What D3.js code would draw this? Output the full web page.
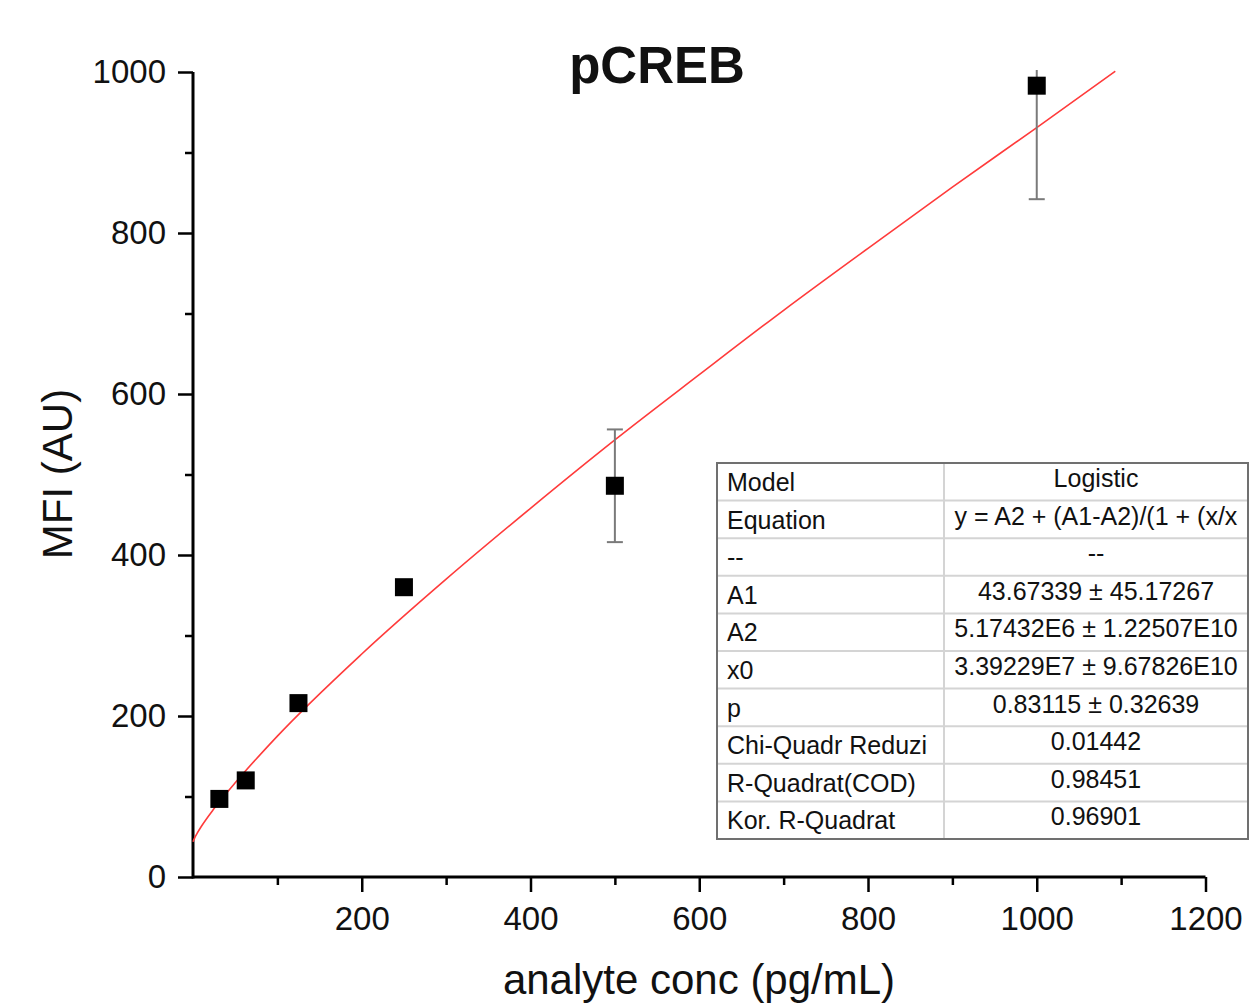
<!DOCTYPE html>
<html>
<head>
<meta charset="utf-8">
<script src="https://cdn.jsdelivr.net/npm/d3@7"></script>
<style>
  body { margin: 0; background: #fff; }
  text { font-family: "Liberation Sans", Arial, sans-serif; fill: #111; }
</style>
</head>
<body>
<div id="viz"></div>
<script>
// measured points
let conc = [31.25, 62.5, 125, 250, 500, 1000]
let mfi = [97, 120, 216, 360, 486, 983]
let mfi_err = [0, 0, 0, 0, 70, 141]

// fitted logistic curve
let fit_x = [0, 2, 5, 10, 25, 50, 100, 200, 300, 400, 500, 600, 700, 800, 900, 1000, 1093]
let fit_y = [43.7, 48.7, 54.5, 63, 85, 117, 175, 277, 370, 458, 543, 624, 704, 781, 857, 931, 1001]

let x_major = [200, 400, 600, 800, 1000, 1200]
let x_minor = [100, 300, 500, 700, 900, 1100]
let y_major = [0, 200, 400, 600, 800, 1000]
let y_minor = [100, 300, 500, 700, 900]

let table_labels = ['Model', 'Equation', '--', 'A1', 'A2', 'x0', 'p', 'Chi-Quadr Reduzi', 'R-Quadrat(COD)', 'Kor. R-Quadrat']
let table_values = ['Logistic', 'y = A2 + (A1-A2)/(1 + (x/x', '--', '43.67339 ± 45.17267', '5.17432E6 ± 1.22507E10',
	'3.39229E7 ± 9.67826E10', '0.83115 ± 0.32639', '0.01442', '0.98451', '0.96901']

const WIDTH = 1249
const HEIGHT = 1007

const svg = d3.select('#viz').append('svg')
	.attr('width', WIDTH)
	.attr('height', HEIGHT)

const x = d3.scaleLinear().domain([0, 1200]).range([193, 1205.5])
const y = d3.scaleLinear().domain([0, 1000]).range([877, 72])

svg.append('defs').append('clipPath').attr('id', 'plot-clip')
	.append('rect').attr('x', 150).attr('y', 70).attr('width', 1100).attr('height', 820)

// axes
const axis_style = (g) => {
	g.select('.domain').remove()
	g.selectAll('.tick line').attr('stroke', '#000').attr('stroke-width', 2.5)
	g.selectAll('.tick text').style('font-size', '33px').attr('fill', '#111')
}

svg.append('g')
	.attr('transform', 'translate(0,877)')
	.call(d3.axisBottom(x).tickValues(x_major).tickSize(15).tickPadding(15).tickFormat(d3.format('d')))
	.call(axis_style)

svg.append('g')
	.attr('transform', 'translate(0,877)')
	.call(d3.axisBottom(x).tickValues(x_minor).tickSize(8).tickFormat(''))
	.call(axis_style)

svg.append('g')
	.attr('transform', 'translate(193,0)')
	.call(d3.axisLeft(y).tickValues(y_major).tickSize(15).tickPadding(12).tickFormat(d3.format('d')))
	.call(axis_style)

svg.append('g')
	.attr('transform', 'translate(193,0)')
	.call(d3.axisLeft(y).tickValues(y_minor).tickSize(8).tickFormat(''))
	.call(axis_style)

svg.append('line')
	.attr('x1', x(0)).attr('x2', x(1200))
	.attr('y1', y(0)).attr('y2', y(0))
	.attr('stroke', '#000').attr('stroke-width', 3)
svg.append('line')
	.attr('x1', x(0)).attr('x2', x(0))
	.attr('y1', y(0) + 1.5).attr('y2', y(1000))
	.attr('stroke', '#000').attr('stroke-width', 3)

// fit line
const plot = svg.append('g').attr('clip-path', 'url(#plot-clip)')

const fit_line = d3.line()
	.x((d, i) => x(fit_x[i]))
	.y((d, i) => y(fit_y[i]))
	.curve(d3.curveMonotoneX)

plot.append('path')
	.datum(fit_x)
	.attr('d', fit_line)
	.attr('fill', 'none')
	.attr('stroke', '#ff3b3b')
	.attr('stroke-width', 1.6)

// error bars
const err_data = conc.map((c, i) => ({ c, v: mfi[i], e: mfi_err[i] })).filter((d) => d.e > 0)

plot.selectAll('.err')
	.data(err_data)
	.enter()
	.append('line')
	.attr('x1', (d) => x(d.c)).attr('x2', (d) => x(d.c))
	.attr('y1', (d) => y(d.v - d.e)).attr('y2', (d) => y(d.v + d.e))
	.attr('stroke', '#7a7a7a').attr('stroke-width', 2)

plot.selectAll('.cap')
	.data(err_data.flatMap((d) => [
		{ c: d.c, v: d.v - d.e },
		{ c: d.c, v: d.v + d.e }
	]))
	.enter()
	.append('line')
	.attr('x1', (d) => x(d.c) - 8).attr('x2', (d) => x(d.c) + 8)
	.attr('y1', (d) => y(d.v)).attr('y2', (d) => y(d.v))
	.attr('stroke', '#7a7a7a').attr('stroke-width', 2)

// squares
const SQ = 18
svg.selectAll('.pt')
	.data(conc)
	.enter()
	.append('rect')
	.attr('x', (d) => x(d) - SQ / 2)
	.attr('y', (d, i) => y(mfi[i]) - SQ / 2)
	.attr('width', SQ)
	.attr('height', SQ)
	.attr('fill', '#000')

// titles
svg.append('text')
	.attr('x', 657).attr('y', 83)
	.attr('text-anchor', 'middle')
	.style('font-size', '51px')
	.style('font-weight', 'bold')
	.text('pCREB')

svg.append('text')
	.attr('x', 699).attr('y', 994)
	.attr('text-anchor', 'middle')
	.style('font-size', '42px')
	.text('analyte conc (pg/mL)')

svg.append('text')
	.attr('transform', 'translate(72,474) rotate(-90)')
	.attr('text-anchor', 'middle')
	.style('font-size', '42px')
	.text('MFI (AU)')

// fit results table
const T_X = 717
const T_Y = 463
const T_MID = 944
const T_R = 1248
const ROW_H = (839 - 463) / table_labels.length

const table = svg.append('g')
table.append('rect')
	.attr('x', T_X).attr('y', T_Y)
	.attr('width', T_R - T_X).attr('height', ROW_H * table_labels.length)
	.attr('fill', '#fff')

table.selectAll('.row-line')
	.data(d3.range(1, table_labels.length))
	.enter()
	.append('line')
	.attr('x1', T_X).attr('x2', T_R)
	.attr('y1', (d) => T_Y + d * ROW_H).attr('y2', (d) => T_Y + d * ROW_H)
	.attr('stroke', '#d4d4d4').attr('stroke-width', 2)

table.append('line')
	.attr('x1', T_MID).attr('x2', T_MID)
	.attr('y1', T_Y).attr('y2', T_Y + ROW_H * table_labels.length)
	.attr('stroke', '#d4d4d4').attr('stroke-width', 2)

table.append('rect')
	.attr('x', T_X).attr('y', T_Y)
	.attr('width', T_R - T_X).attr('height', ROW_H * table_labels.length)
	.attr('fill', 'none')
	.attr('stroke', '#707070').attr('stroke-width', 2)

table.selectAll('.lbl')
	.data(table_labels)
	.enter()
	.append('text')
	.attr('x', T_X + 10)
	.attr('y', (d, i) => T_Y + i * ROW_H + 28)
	.style('font-size', '25px')
	.text((d) => d)

table.selectAll('.val')
	.data(table_values)
	.enter()
	.append('text')
	.attr('x', (T_MID + T_R) / 2)
	.attr('y', (d, i) => T_Y + i * ROW_H + 24)
	.attr('text-anchor', 'middle')
	.style('font-size', '25px')
	.text((d) => d)
</script>
</body>
</html>
